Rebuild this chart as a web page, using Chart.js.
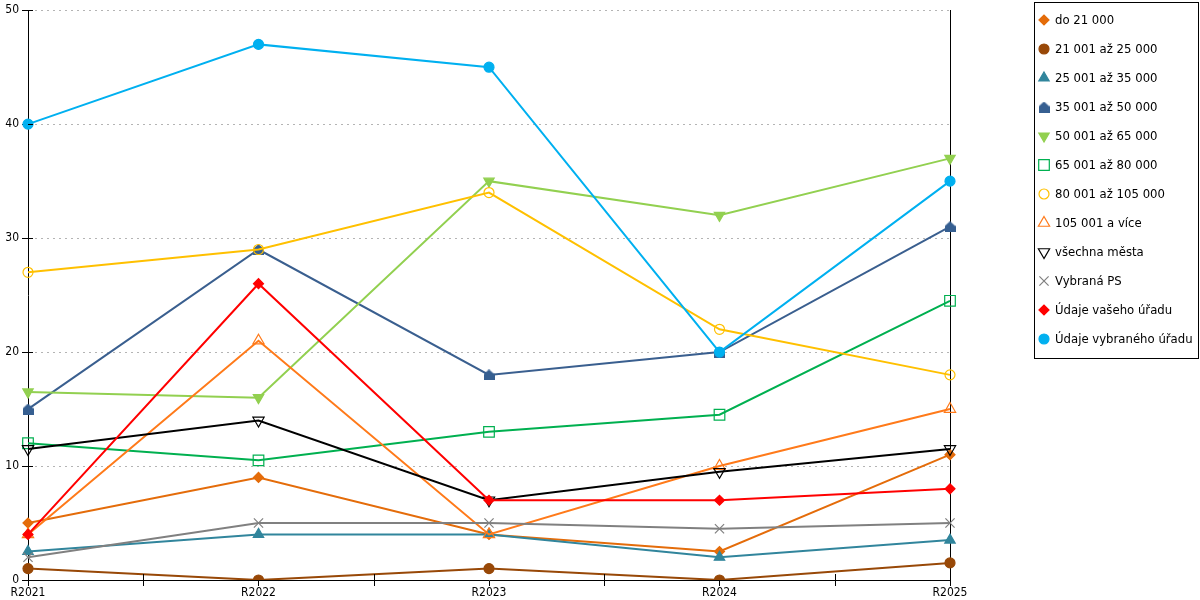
<!DOCTYPE html>
<html>
<head>
<meta charset="utf-8">
<script src="https://cdn.jsdelivr.net/npm/chart.js"></script>
<style>
  body { margin: 0; background: #fff; }
  #wrap { width: 1200px; height: 600px; }
</style>
</head>
<body>
<div id="wrap"><canvas id="graf" width="1200" height="600"></canvas></div>
<script>
// popisky roku
const roky = ['R2021', 'R2022', 'R2023', 'R2024', 'R2025'];

// hodnoty jednotlivych rad
const do21000 = [5, 9, 4, 2.5, 11];
const od21do25 = [1, 0, 1, 0, 1.5];
const od25do35 = [2.5, 4, 4, 2, 3.5];
const od35do50 = [15, 29, 18, 20, 31];
const od50do65 = [16.5, 16, 35, 32, 37];
const od65do80 = [12, 10.5, 13, 14.5, 24.5];
const od80do105 = [27, 29, 34, 22, 18];
const nad105 = [4, 21, 4, 10, 15];
const vsechnaMesta = [11.5, 14, 7, 9.5, 11.5];
const vybranaPS = [2, 5, 5, 4.5, 5];
const vasUrad = [4, 26, 7, 7, 8];
const vybranyUrad = [40, 47, 45, 20, 35];

// osa y
const osaYMin = 0;
const osaYMax = 50;
const osaYKrok = 10;

const pismoOsy = '"DejaVu Sans Condensed", "DejaVu Sans", Verdana, sans-serif';

// znacka "domecek" pro 35 001 az 50 000
function domecek(barva) {
    const c = document.createElement('canvas');
    c.width = 11;
    c.height = 11;
    const g = c.getContext('2d');
    g.fillStyle = barva;
    g.beginPath();
    g.moveTo(5.5, 0);
    g.lineTo(11, 5);
    g.lineTo(11, 11);
    g.lineTo(0, 11);
    g.lineTo(0, 5);
    g.closePath();
    g.fill();
    return c;
}

const pruhledna = 'rgba(0,0,0,0)';

function rada(nazev, data, barva, styl, polomer, plna, rotace) {
    return {
        label: nazev,
        data: data,
        borderColor: barva,
        backgroundColor: barva,
        borderWidth: 2,
        tension: 0,
        pointStyle: styl,
        pointRadius: polomer,
        pointHoverRadius: polomer,
        pointRotation: rotace || 0,
        pointBackgroundColor: plna ? barva : pruhledna,
        pointBorderColor: barva,
        pointBorderWidth: 1.2
    };
}

const datasety = [
    rada('do 21 000', do21000, '#E46C0A', 'rectRot', 5, true),
    rada('21 001 až 25 000', od21do25, '#984807', 'circle', 5, true),
    rada('25 001 až 35 000', od25do35, '#31859C', 'triangle', 6, true),
    rada('35 001 až 50 000', od35do50, '#3A5F8F', domecek('#365F91'), 6, true),
    rada('50 001 až 65 000', od50do65, '#92D050', 'triangle', 6, true, 180),
    rada('65 001 až 80 000', od65do80, '#00B050', 'rect', 7.5, false),
    rada('80 001 až 105 000', od80do105, '#FFC000', 'circle', 5, false),
    rada('105 001 a více', nad105, '#FF7A1A', 'triangle', 6.5, false),
    rada('všechna města', vsechnaMesta, '#000000', 'triangle', 6.5, false, 180),
    rada('Vybraná PS', vybranaPS, '#808080', 'crossRot', 6.5, false),
    rada('Údaje vašeho úřadu', vasUrad, '#FF0000', 'rectRot', 5, true),
    rada('Údaje vybraného úřadu', vybranyUrad, '#00B0F0', 'circle', 5, true)
];

// pozdejsi rady se kresli navrch
datasety.forEach((d, i) => { d.order = datasety.length - i; });

// vlastni legenda v ramecku vpravo
const legendaPlugin = {
    id: 'legendaVpravo',
    afterDraw(chart) {
        const ctx = chart.ctx;
        ctx.save();
        ctx.strokeStyle = '#000';
        ctx.lineWidth = 1;
        ctx.strokeRect(1034.5, 2.5, 164, 356);
        ctx.font = '11.7px "DejaVu Sans", Verdana, sans-serif';
        ctx.textBaseline = 'middle';
        ctx.textAlign = 'left';
        chart.data.datasets.forEach((d, i) => {
            const y = 20 + i * 29;
            const x = 1044;
            ctx.fillStyle = d.pointBackgroundColor;
            ctx.strokeStyle = d.pointBorderColor;
            ctx.lineWidth = d.pointBorderWidth;
            if (Chart.helpers && Chart.helpers.drawPoint) {
                Chart.helpers.drawPoint(ctx, {
                    pointStyle: d.pointStyle,
                    rotation: d.pointRotation,
                    radius: d.pointRadius,
                    borderWidth: d.pointBorderWidth
                }, x, y);
            }
            ctx.fillStyle = '#000';
            ctx.fillText(d.label, 1055, y + 1);
        });
        ctx.restore();
    }
};

// carky na ose x mezi kategoriemi
const carkyPlugin = {
    id: 'carkyMezi',
    afterDraw(chart) {
        const sx = chart.scales.x;
        const ctx = chart.ctx;
        const y0 = chart.chartArea.bottom;
        ctx.save();
        ctx.strokeStyle = '#000';
        ctx.lineWidth = 1;
        ctx.beginPath();
        for (let i = 0; i < roky.length - 1; i++) {
            const x = Math.round(sx.getPixelForValue(i + 0.5)) + 0.5;
            ctx.moveTo(x, y0 - 6);
            ctx.lineTo(x, y0 + 6);
        }
        // carky osy y zasahuji i dovnitr grafu
        const sy = chart.scales.y;
        const xl = chart.chartArea.left;
        for (let v = osaYMin; v <= osaYMax; v += osaYKrok) {
            const y = Math.round(sy.getPixelForValue(v)) + 0.5;
            ctx.moveTo(xl, y);
            ctx.lineTo(xl + 5, y);
        }
        ctx.stroke();
        ctx.restore();
    }
};

new Chart(document.getElementById('graf'), {
    type: 'line',
    data: {
        labels: roky,
        datasets: datasety
    },
    options: {
        responsive: false,
        animation: false,
        devicePixelRatio: 1,
        layout: {
            padding: { left: 0, top: 10, right: 250, bottom: 0 }
        },
        plugins: {
            legend: { display: false },
            tooltip: { enabled: false }
        },
        scales: {
            x: {
                offset: false,
                afterFit(s) { s.height = 20; },
                grid: {
                    display: true,
                    drawOnChartArea: false,
                    drawTicks: true,
                    tickLength: 6,
                    color: '#000',
                    tickColor: '#000'
                },
                border: { display: true, color: '#000', width: 1 },
                ticks: {
                    color: '#000',
                    font: { family: pismoOsy, size: 12 },
                    padding: 0,
                    maxRotation: 0,
                    autoSkip: false
                }
            },
            y: {
                min: osaYMin,
                max: osaYMax,
                afterFit(s) { s.width = 28; },
                grid: {
                    color: (c) => (c.tick && c.tick.value === 0 ? pruhledna : '#b4b4b4'),
                    tickColor: '#000',
                    tickLength: 6,
                    lineWidth: 1
                },
                border: { display: true, color: '#000', width: 1, dash: [2, 4] },
                ticks: {
                    stepSize: osaYKrok,
                    color: '#000',
                    padding: 3,
                    font: { family: pismoOsy, size: 12 }
                }
            },
            y2: {
                position: 'right',
                min: osaYMin,
                max: osaYMax,
                afterFit(s) { s.width = 0; },
                grid: { display: false },
                ticks: { display: false },
                border: { display: true, color: '#000', width: 1 }
            }
        }
    },
    plugins: [legendaPlugin, carkyPlugin]
});
</script>
</body>
</html>
